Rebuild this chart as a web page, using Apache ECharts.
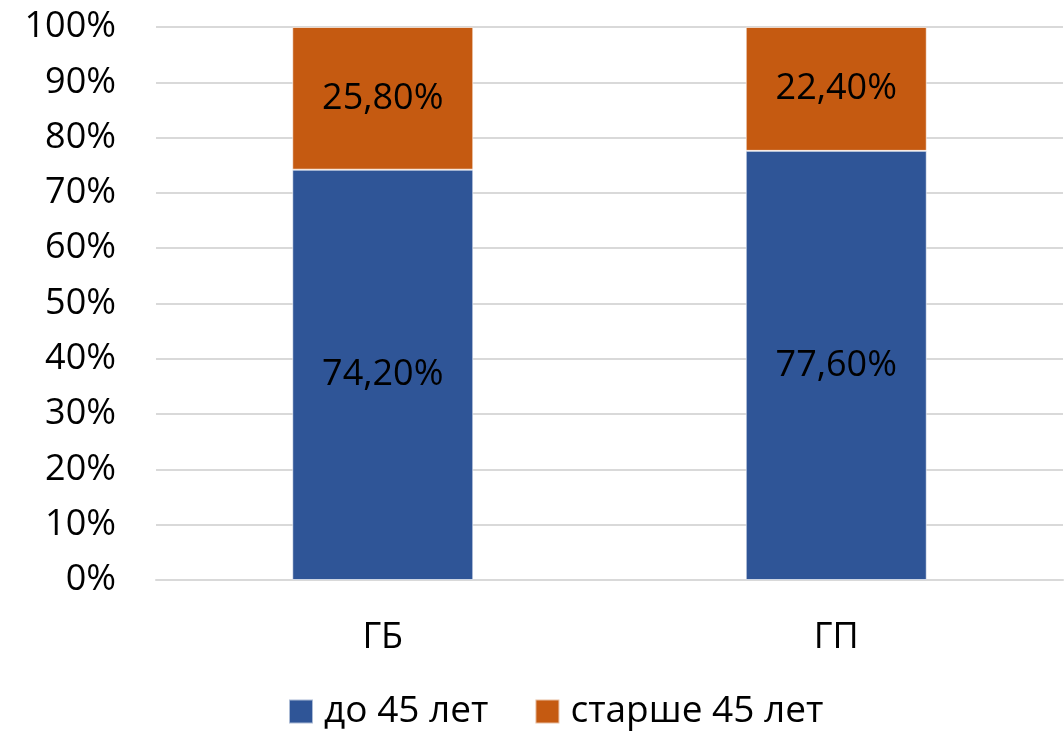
<!DOCTYPE html>
<html>
<head>
<meta charset="utf-8">
<script src="https://cdn.jsdelivr.net/npm/echarts@6/dist/echarts.min.js"></script>
<style>
  html, body { margin: 0; padding: 0; background: #fff; }
  #chart { width: 1064px; height: 731px; }
</style>
</head>
<body>
<div id="chart"></div>
<script>
const categories = ["ГБ", "ГП"];
const under45 = [74.2, 77.6];
const over45 = [25.8, 22.4];
const seriesNames = ["до 45 лет", "старше 45 лет"];

const font = "Open Sans";
const fmt = (v) => v.toFixed(2).replace(".", ",") + "%";

function barSeries(name, data, color) {
  return {
    name: name,
    type: "bar",
    stack: "total",
    barWidth: 181,
    data: data,
    itemStyle: {
      color: color,
      borderColor: "rgba(255,255,255,0.6)",
      borderWidth: 1,
    },
    label: {
      show: true,
      position: "inside",
      color: "#000",
      fontFamily: font,
      fontSize: 36,
      formatter: (p) => fmt(p.value),
    },
  };
}

const chart = echarts.init(document.getElementById("chart"));
chart.setOption({
  animation: false,
  grid: {
    left: 156,
    right: 1,
    top: 27,
    bottom: 151,
  },
  legend: {
    top: 688,
    left: 283,
    itemWidth: 24,
    itemHeight: 24,
    itemGap: 46,
    icon: "rect",
    textStyle: {
      fontFamily: font,
      fontSize: 37,
      color: "#000",
      padding: [0, 0, 0, 6],
    },
  },
  xAxis: {
    type: "category",
    data: categories,
    axisLine: { lineStyle: { color: "#d9d9d9", width: 2 } },
    axisTick: { show: false },
    axisLabel: {
      margin: 40,
      fontFamily: font,
      fontSize: 36,
      color: "#000",
    },
  },
  yAxis: {
    type: "value",
    min: 0,
    max: 100,
    interval: 10,
    axisLine: { show: false },
    axisTick: { show: false },
    splitLine: { lineStyle: { color: "#d9d9d9", width: 2 } },
    axisLabel: {
      margin: 40,
      fontFamily: font,
      fontSize: 36,
      color: "#000",
      formatter: "{value}%",
    },
  },
  series: [
    barSeries(seriesNames[0], under45, "#2f5597"),
    barSeries(seriesNames[1], over45, "#c55a11"),
  ],
});
</script>
</body>
</html>
